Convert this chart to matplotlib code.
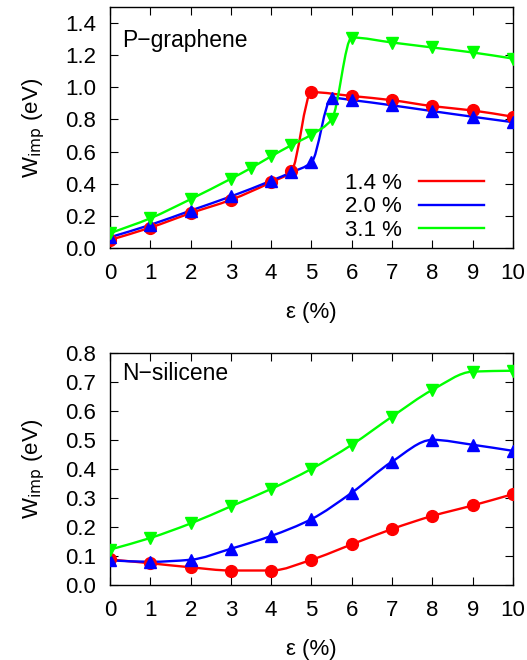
import numpy as np
import matplotlib
matplotlib.use("Agg")
import matplotlib.pyplot as plt
from matplotlib.path import Path
from matplotlib.patches import PathPatch

plt.rcParams['font.family'] = ['Liberation Sans', 'DejaVu Sans']
plt.rcParams['font.size'] = 16

# P-graphene data
pg_x_red = [0, 1, 2, 3, 4, 4.5, 5, 6, 7, 8, 9, 10]
pg_y_red = [0.05, 0.127, 0.217, 0.30, 0.41, 0.477, 0.97, 0.946, 0.92, 0.883, 0.856, 0.817]
pg_x_blue = [0, 1, 2, 3, 4, 4.5, 5, 5.5, 6, 7, 8, 9, 10]
pg_y_blue = [0.067, 0.144, 0.233, 0.321, 0.419, 0.471, 0.533, 0.935, 0.921, 0.888, 0.852, 0.817, 0.783]
pg_x_green = [0, 1, 2, 3, 3.5, 4, 4.5, 5, 5.5, 6, 7, 8, 9, 10]
pg_y_green = [0.092, 0.185, 0.304, 0.431, 0.498, 0.571, 0.640, 0.706, 0.80, 1.31, 1.279, 1.248, 1.217, 1.179]

# N-silicene data
ns_x = [0, 1, 2, 3, 4, 5, 6, 7, 8, 9, 10]
ns_y_red = [0.088, 0.075, 0.061, 0.050, 0.050, 0.087, 0.140, 0.193, 0.238, 0.274, 0.313]
ns_y_blue = [0.085, 0.080, 0.087, 0.125, 0.169, 0.227, 0.318, 0.425, 0.50, 0.483, 0.462]
ns_y_green = [0.122, 0.162, 0.212, 0.271, 0.331, 0.40, 0.483, 0.580, 0.672, 0.735, 0.738]

labels = ['1.4 %', '2.0 %', '3.1 %']
colors = ['#ff0000', '#0000ff', '#00ff00']
markers = ['o', '^', 'v']


def smooth_path(x, y):
    # monotone cubic (Fritsch-Carlson) drawn as Bezier segments
    x = np.asarray(x, float)
    y = np.asarray(y, float)
    h = np.diff(x)
    d = np.diff(y) / h
    m = np.zeros_like(y)
    m[0] = d[0]
    m[-1] = d[-1]
    for i in range(1, len(x) - 1):
        if d[i - 1] * d[i] <= 0:
            m[i] = 0
        else:
            w1 = 2 * h[i] + h[i - 1]
            w2 = h[i] + 2 * h[i - 1]
            m[i] = (w1 + w2) / (w1 / d[i - 1] + w2 / d[i])
    verts = [(x[0], y[0])]
    codes = [Path.MOVETO]
    for i in range(len(x) - 1):
        verts += [(x[i] + h[i] / 3, y[i] + m[i] * h[i] / 3),
                  (x[i + 1] - h[i] / 3, y[i + 1] - m[i + 1] * h[i] / 3),
                  (x[i + 1], y[i + 1])]
        codes += [Path.CURVE4] * 3
    return Path(verts, codes)


def draw(ax, x, y, c, mk, lab):
    ax.add_patch(PathPatch(smooth_path(x, y), fill=False, edgecolor=c, lw=1.7, zorder=2))
    ax.plot(x, y, ls='none', marker=mk, color=c, ms=8.5, zorder=3)
    ax.plot([], [], color=c, lw=1.7, label=lab)


def style(ax, ylim, yticks, ylabels, text, ty):
    ax.set_xlim(0, 10)
    ax.set_ylim(*ylim)
    ax.set_xticks(range(11))
    ax.set_yticks(yticks)
    ax.set_yticklabels(ylabels)
    ax.tick_params(direction='in', top=True, right=True, length=6, width=0.8, labelsize=16)
    ax.tick_params(axis='y', pad=10)
    ax.tick_params(axis='x', pad=11)
    for s in ax.spines.values():
        s.set_linewidth(1.0)
    ax.set_xlabel('ε (%)', fontsize=16, labelpad=13)
    ax.set_ylabel(r'W$_{\mathrm{imp}}$ (eV)', fontsize=16, labelpad=13)
    ax.text(0.03, ty, text, transform=ax.transAxes, fontsize=16.5, va='center')


fig = plt.figure(figsize=(5.27, 6.6), dpi=100)
ax1 = fig.add_axes([0.2087, 0.6242, 0.7647, 0.3652])
ax2 = fig.add_axes([0.2087, 0.1136, 0.7647, 0.352])

pg = [(pg_x_red, pg_y_red), (pg_x_blue, pg_y_blue), (pg_x_green, pg_y_green)]
for (x, y), c, mk, lab in zip(pg, colors, markers, labels):
    draw(ax1, x, y, c, mk, lab)

for y, c, mk, lab in zip([ns_y_red, ns_y_blue, ns_y_green], colors, markers, labels):
    draw(ax2, ns_x, y, c, mk, lab)

yt1 = [0, 0.2, 0.4, 0.6, 0.8, 1.0, 1.2, 1.4]
style(ax1, (0, 1.5), yt1, ['%.1f' % v for v in yt1], 'P−graphene', 0.863)
yt2 = [0, 0.1, 0.2, 0.3, 0.4, 0.5, 0.6, 0.7, 0.8]
style(ax2, (0, 0.8), yt2, ['%.1f' % v for v in yt2], 'N−silicene', 0.91)

leg = ax1.legend(loc='lower right', bbox_to_anchor=(0.977, -0.052), frameon=False,
                 markerfirst=False, handlelength=2.9, handletextpad=0.8,
                 labelspacing=0.1, fontsize=16)
for t in leg.get_texts():
    t.set_ha('right')

fig.savefig('out.png', dpi=100)
